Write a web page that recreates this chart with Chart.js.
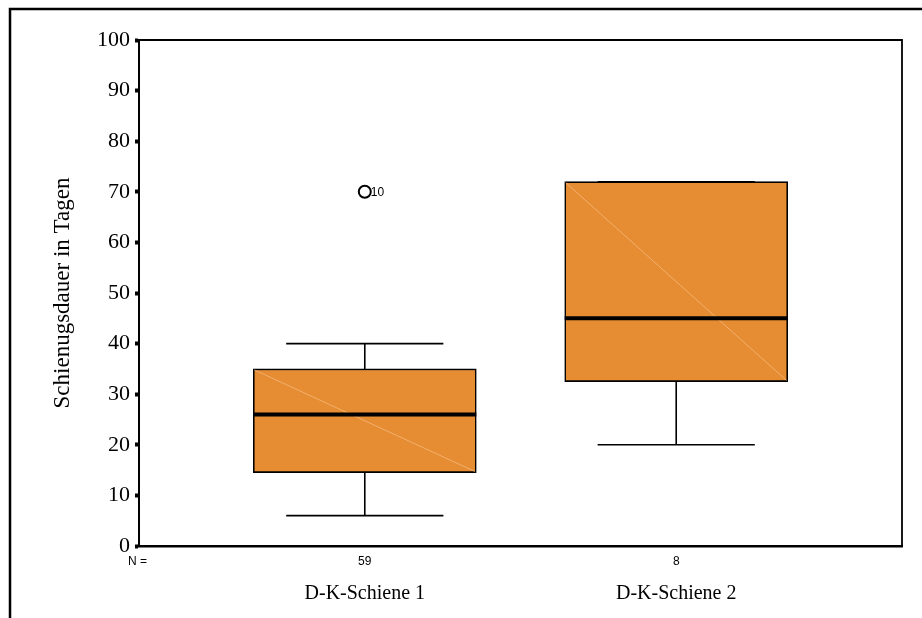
<!DOCTYPE html>
<html>
<head>
<meta charset="utf-8">
<script src="https://cdn.jsdelivr.net/npm/chart.js@4"></script>
<style>
  html, body { margin: 0; padding: 0; background: #fff; }
  canvas { display: block; }
</style>
</head>
<body>
<canvas id="c" width="922" height="618"></canvas>
<script>
// Duration of splinting (days) per splint type
const categories  = ['D-K-Schiene 1', 'D-K-Schiene 2'];
const counts      = [59, 8];
const whiskerLow  = [6, 20];
const q1          = [14.5, 32.5];
const medians     = [26, 45];
const q3          = [35, 72];
const whiskerHigh = [40, 72];

// Outliers: group index, value, case number
const outlierGroup = [0];
const outlierValue = [70];
const outlierCase  = ['10'];

const yMin = 0, yMax = 100, yStep = 10;
const yTitle = 'Schienugsdauer in Tagen';

const positions = categories.map((_, i) => i + 1);

const SERIF = "'Liberation Serif', 'Times New Roman', serif";
const SANS  = "'Liberation Sans', Arial, sans-serif";
const BOX_FILL = '#E68C32';

const boxData = positions.map((p, i) => ({ x: p, y: [q1[i], q3[i]] }));
const outlierData = outlierGroup.map((g, i) => ({ x: positions[g], y: outlierValue[i] }));

const boxPlotPlugin = {
  id: 'boxPlot',
  beforeDraw(chart) {
    const ctx = chart.ctx;
    ctx.save();
    // outer frame
    ctx.strokeStyle = '#000';
    ctx.lineWidth = 2.5;
    ctx.beginPath();
    ctx.moveTo(10, chart.height + 2);
    ctx.lineTo(10, 9);
    ctx.lineTo(chart.width + 2, 9);
    ctx.stroke();
    ctx.restore();
  },
  beforeDatasetsDraw(chart) {
    const { ctx, chartArea: a } = chart;
    ctx.save();
    ctx.strokeStyle = '#000';
    ctx.lineWidth = 1.8;
    ctx.beginPath();
    ctx.moveTo(a.left, a.top);
    ctx.lineTo(a.right, a.top);
    ctx.lineTo(a.right, a.bottom);
    ctx.stroke();
    ctx.restore();
  },
  afterDatasetsDraw(chart) {
    const ctx = chart.ctx;
    const ys = chart.scales.y;
    const bars = chart.getDatasetMeta(0).data;
    ctx.save();
    bars.forEach((bar, i) => {
      const cx = bar.x;
      const half = bar.width / 2;
      const capHalf = half * 0.705;
      const yTop = ys.getPixelForValue(q3[i]);
      const yBot = ys.getPixelForValue(q1[i]);
      const yMed = ys.getPixelForValue(medians[i]);
      const yHi = ys.getPixelForValue(whiskerHigh[i]);
      const yLo = ys.getPixelForValue(whiskerLow[i]);

      // faint diagonal across the box
      ctx.strokeStyle = 'rgba(250,200,150,0.75)';
      ctx.lineWidth = 0.8;
      ctx.beginPath();
      ctx.moveTo(cx - half + 1, yTop + 1);
      ctx.lineTo(cx + half - 1, yBot - 1);
      ctx.stroke();

      // whiskers and caps
      ctx.strokeStyle = '#000';
      ctx.lineWidth = 1.6;
      ctx.beginPath();
      ctx.moveTo(cx, yTop);
      ctx.lineTo(cx, yHi);
      ctx.moveTo(cx - capHalf, yHi);
      ctx.lineTo(cx + capHalf, yHi);
      ctx.moveTo(cx, yBot);
      ctx.lineTo(cx, yLo);
      ctx.moveTo(cx - capHalf, yLo);
      ctx.lineTo(cx + capHalf, yLo);
      ctx.stroke();

      // median
      ctx.lineWidth = 4;
      ctx.beginPath();
      ctx.moveTo(cx - half, yMed);
      ctx.lineTo(cx + half, yMed);
      ctx.stroke();

      // group size row
      ctx.fillStyle = '#000';
      ctx.font = '12px ' + SANS;
      ctx.textAlign = 'center';
      ctx.textBaseline = 'middle';
      ctx.fillText(String(counts[i]), cx, chart.chartArea.bottom + 16);
    });

    ctx.font = '12px ' + SANS;
    ctx.textAlign = 'left';
    ctx.textBaseline = 'middle';
    ctx.fillText('N =', chart.chartArea.left - 11, chart.chartArea.bottom + 16);

    // outlier case numbers
    const pts = chart.getDatasetMeta(1).data;
    pts.forEach((pt, i) => {
      ctx.fillText(outlierCase[i], pt.x + 6, pt.y + 0.5);
    });
    ctx.restore();
  }
};

new Chart(document.getElementById('c'), {
  type: 'bar',
  data: {
    datasets: [
      {
        type: 'bar',
        data: boxData,
        backgroundColor: BOX_FILL,
        borderColor: '#000',
        borderWidth: 1.6,
        borderSkipped: false,
        barThickness: 223,
        order: 2
      },
      {
        type: 'scatter',
        data: outlierData,
        pointStyle: 'circle',
        pointRadius: 6,
        pointBackgroundColor: '#fff',
        pointBorderColor: '#000',
        pointBorderWidth: 2,
        showLine: false,
        order: 1
      }
    ]
  },
  options: {
    responsive: false,
    animation: false,
    layout: { padding: { top: 40, right: 20, left: 0, bottom: 0 } },
    plugins: {
      legend: { display: false },
      tooltip: { enabled: false }
    },
    scales: {
      x: {
        type: 'linear',
        offset: false,
        min: 0.275,
        max: 2.725,
        afterFit(scale) { scale.height = 72; },
        afterBuildTicks(scale) { scale.ticks = positions.map(v => ({ value: v })); },
        grid: { display: false },
        border: { display: true, color: '#000', width: 2.5 },
        ticks: {
          autoSkip: false,
          maxRotation: 0,
          padding: 28,
          color: '#000',
          font: { family: SERIF, size: 20 },
          callback(v) { return categories[positions.indexOf(v)] ?? ''; }
        }
      },
      y: {
        type: 'linear',
        min: yMin,
        max: yMax,
        afterFit(scale) { scale.width = 139; },
        grid: {
          drawOnChartArea: false,
          drawTicks: true,
          tickLength: 4,
          tickWidth: 4,
          tickColor: '#000'
        },
        border: { display: true, color: '#000', width: 2 },
        ticks: {
          stepSize: yStep,
          padding: 5,
          color: '#000',
          font: { family: SERIF, size: 22 }
        },
        title: {
          display: true,
          text: yTitle,
          color: '#000',
          font: { family: SERIF, size: 23 },
          padding: { top: 49, bottom: 0 }
        }
      }
    }
  },
  plugins: [boxPlotPlugin]
});
</script>
</body>
</html>
